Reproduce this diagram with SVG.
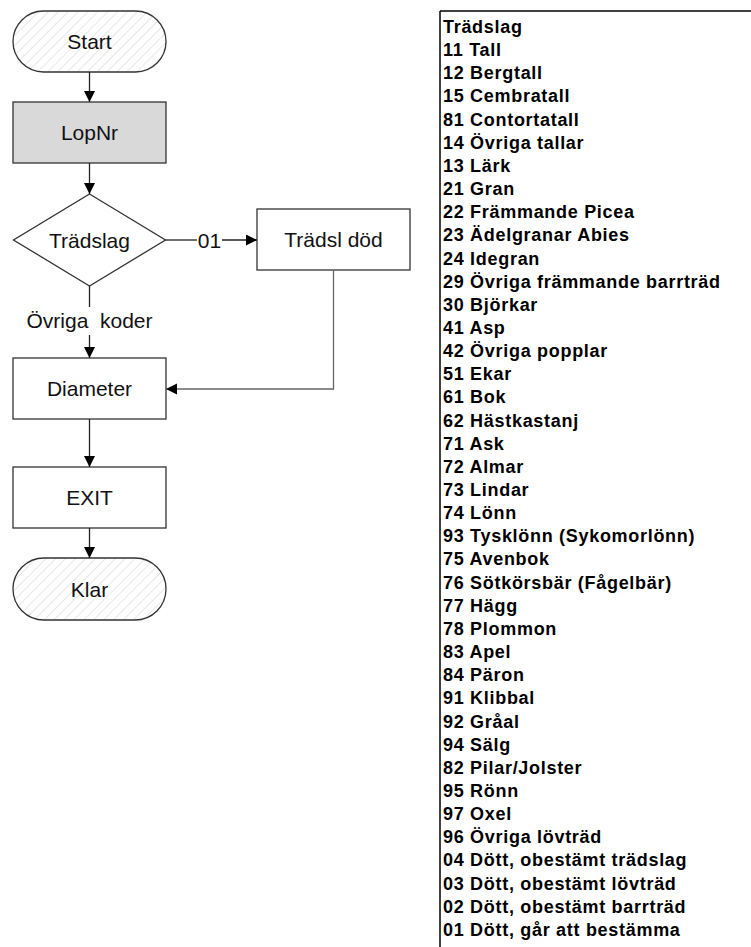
<svg xmlns="http://www.w3.org/2000/svg" width="751" height="947" viewBox="0 0 751 947">
<style>
.box{fill:#fff;stroke:#333;stroke-width:1.3}
.grey{fill:#d9d9d9}
.term{fill:url(#hatch);stroke:#333;stroke-width:1.3}
.lbl{font-family:"Liberation Sans",Arial,sans-serif;font-size:21px;fill:#111;text-anchor:middle}
.edge{fill:none;stroke:#222;stroke-width:1.3}
.edge2{fill:none;stroke:#666;stroke-width:1.3}
.leg{font-family:"Liberation Sans",Arial,sans-serif;font-size:18px;font-weight:bold;letter-spacing:0.7px;fill:#000}
.tl{fill:none;stroke:#000;stroke-width:1.5}
</style>
<defs>
<pattern id="hatch" patternUnits="userSpaceOnUse" width="7" height="7" patternTransform="rotate(45)">
<rect width="7" height="7" fill="#fff"/>
<line x1="0" y1="0" x2="0" y2="7" stroke="#cfcfcf" stroke-width="1"/>
</pattern>
<marker id="arr" markerUnits="userSpaceOnUse" markerWidth="12" markerHeight="12" refX="11" refY="5.5" orient="auto">
<path d="M0,0 L11,5.5 L0,11 z" fill="#000"/>
</marker>
</defs>

<g id="node-start">
<rect class="term" x="13" y="11" width="153" height="61" rx="30.5"/>
<text class="lbl" x="89.5" y="49">Start</text>
</g>
<g id="node-lopnr">
<rect class="box grey" x="13" y="102" width="153" height="61"/>
<text class="lbl" x="89.5" y="140">LopNr</text>
</g>
<g id="node-tradslag">
<polygon class="box" points="89.5,194 165.5,240 89.5,286 13.5,240"/>
<text class="lbl" x="89.5" y="247.5">Trädslag</text>
</g>
<g id="node-tradsldod">
<rect class="box" x="257" y="209" width="153" height="61"/>
<text class="lbl" x="333.5" y="247">Trädsl död</text>
</g>
<g id="node-diameter">
<rect class="box" x="13" y="358" width="153" height="61"/>
<text class="lbl" x="89.5" y="396">Diameter</text>
</g>
<g id="node-exit">
<rect class="box" x="13" y="467" width="153" height="61"/>
<text class="lbl" x="89.5" y="505">EXIT</text>
</g>
<g id="node-klar">
<rect class="term" x="13" y="558" width="153" height="62" rx="31"/>
<text class="lbl" x="89.5" y="596.5">Klar</text>
</g>

<g id="connectors">
<line class="edge" x1="89.5" y1="72" x2="89.5" y2="102" marker-end="url(#arr)"/>
<line class="edge" x1="89.5" y1="163" x2="89.5" y2="194" marker-end="url(#arr)"/>
<line class="edge" x1="165.5" y1="240" x2="197" y2="240"/>
<text class="lbl" x="209.5" y="247.5">01</text>
<line class="edge" x1="222" y1="240" x2="257" y2="240" marker-end="url(#arr)"/>
<line class="edge" x1="89.5" y1="286" x2="89.5" y2="307"/>
<text class="lbl" x="89.5" y="327.5" style="white-space:pre">Övriga  koder</text>
<line class="edge" x1="89.5" y1="335" x2="89.5" y2="358" marker-end="url(#arr)"/>
<polyline class="edge2" points="333.5,270 333.5,389 166,389" marker-end="url(#arr)"/>
<line class="edge" x1="89.5" y1="419" x2="89.5" y2="467" marker-end="url(#arr)"/>
<line class="edge" x1="89.5" y1="528" x2="89.5" y2="558" marker-end="url(#arr)"/>
</g>

<g id="legend">
<line class="tl" x1="440" y1="11" x2="751" y2="11"/>
<line class="tl" x1="440" y1="11" x2="440" y2="947"/>
<text class="leg" x="443">
<tspan x="443" y="33">Trädslag</tspan>
<tspan x="443" y="56.15">11 Tall</tspan>
<tspan x="443" y="79.3">12 Bergtall</tspan>
<tspan x="443" y="102.45">15 Cembratall</tspan>
<tspan x="443" y="125.6">81 Contortatall</tspan>
<tspan x="443" y="148.75">14 Övriga tallar</tspan>
<tspan x="443" y="171.9">13 Lärk</tspan>
<tspan x="443" y="195.05">21 Gran</tspan>
<tspan x="443" y="218.2">22 Främmande Picea</tspan>
<tspan x="443" y="241.35">23 Ädelgranar Abies</tspan>
<tspan x="443" y="264.5">24 Idegran</tspan>
<tspan x="443" y="287.65">29 Övriga främmande barrträd</tspan>
<tspan x="443" y="310.8">30 Björkar</tspan>
<tspan x="443" y="333.95">41 Asp</tspan>
<tspan x="443" y="357.1">42 Övriga popplar</tspan>
<tspan x="443" y="380.25">51 Ekar</tspan>
<tspan x="443" y="403.4">61 Bok</tspan>
<tspan x="443" y="426.55">62 Hästkastanj</tspan>
<tspan x="443" y="449.7">71 Ask</tspan>
<tspan x="443" y="472.85">72 Almar</tspan>
<tspan x="443" y="496">73 Lindar</tspan>
<tspan x="443" y="519.15">74 Lönn</tspan>
<tspan x="443" y="542.3">93 Tysklönn (Sykomorlönn)</tspan>
<tspan x="443" y="565.45">75 Avenbok</tspan>
<tspan x="443" y="588.6">76 Sötkörsbär (Fågelbär)</tspan>
<tspan x="443" y="611.75">77 Hägg</tspan>
<tspan x="443" y="634.9">78 Plommon</tspan>
<tspan x="443" y="658.05">83 Apel</tspan>
<tspan x="443" y="681.2">84 Päron</tspan>
<tspan x="443" y="704.35">91 Klibbal</tspan>
<tspan x="443" y="727.5">92 Gråal</tspan>
<tspan x="443" y="750.65">94 Sälg</tspan>
<tspan x="443" y="773.8">82 Pilar/Jolster</tspan>
<tspan x="443" y="796.95">95 Rönn</tspan>
<tspan x="443" y="820.1">97 Oxel</tspan>
<tspan x="443" y="843.25">96 Övriga lövträd</tspan>
<tspan x="443" y="866.4">04 Dött, obestämt trädslag</tspan>
<tspan x="443" y="889.55">03 Dött, obestämt lövträd</tspan>
<tspan x="443" y="912.7">02 Dött, obestämt barrträd</tspan>
<tspan x="443" y="935.85">01 Dött, går att bestämma</tspan>
</text>
</g>
</svg>
